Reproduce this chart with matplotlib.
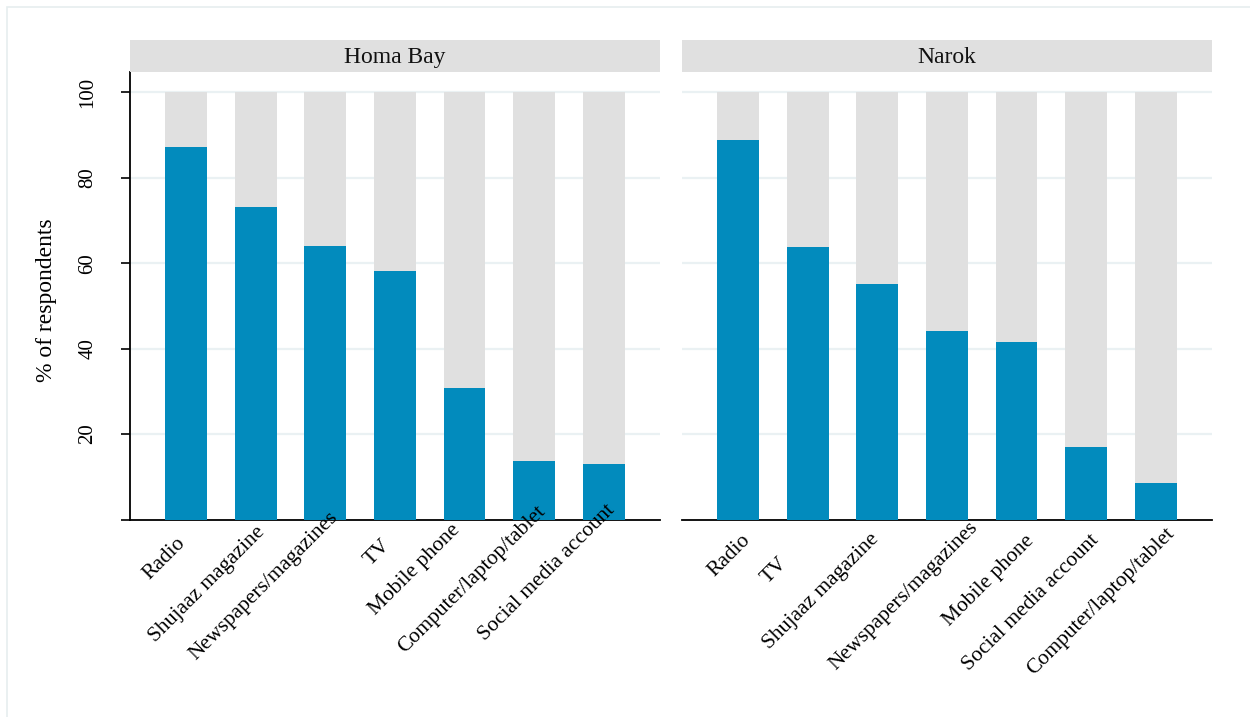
import matplotlib
matplotlib.use("Agg")
import matplotlib.pyplot as plt
from matplotlib.patches import Rectangle

plt.rcParams['font.family'] = ['Liberation Serif', 'DejaVu Serif']

# share of respondents using each media source, by county
homa_labels = ["Radio", "Shujaaz magazine", "Newspapers/magazines", "TV",
               "Mobile phone", "Computer/laptop/tablet", "Social media account"]
homa_values = [87.3, 73.3, 64.1, 58.2, 30.9, 13.7, 13.0]

narok_labels = ["Radio", "TV", "Shujaaz magazine", "Newspapers/magazines",
                "Mobile phone", "Social media account", "Computer/laptop/tablet"]
narok_values = [88.9, 63.9, 55.2, 44.2, 41.5, 17.0, 8.6]

y_ticks = [0, 20, 40, 60, 80, 100]

# pixel nudges for the slanted category labels (dx right, dy down)
homa_nudge = [(0, 24), (10, 13), (13, -2), (-4, 26), (-4, 11), (12, -7), (12, -9)]
narok_nudge = [(13, 21), (-20, 44), (2, 20), (32, 8), (18, 22), (13, 21), (19, 15)]

BLUE = '#028bbd'
GREY = '#e0e0e0'
GRID = '#eaf1f3'

fig = plt.figure(figsize=(12.5, 7.17), dpi=100)

# faint outer frame
fig.patches.append(Rectangle((7 / 1250, -0.01), 1.1, (717 - 7) / 717 + 0.01,
                             transform=fig.transFigure, fill=False,
                             edgecolor='#e6eeef', lw=1.2))

panels = [
    ("Homa Bay", homa_labels, homa_values, homa_nudge, 130),
    ("Narok", narok_labels, narok_values, narok_nudge, 682),
]

ax_bottom = (717 - 519.5) / 717
ax_height = 447.5 / 717

for i, (title, labels, values, nudge, left_px) in enumerate(panels):
    ax = fig.add_axes([left_px / 1250, ax_bottom, 530 / 1250, ax_height])
    x = list(range(len(values)))
    rest = [100 - v for v in values]

    ax.bar(x, values, width=0.6, color=BLUE, zorder=3)
    ax.bar(x, rest, width=0.6, bottom=values, color=GREY, zorder=3)

    ax.set_xlim(-0.805, 6.81)
    ax.set_ylim(0, 104.8)
    ax.set_yticks(y_ticks)
    for t in y_ticks[1:]:
        ax.axhline(t, color=GRID, lw=1.6, zorder=1)

    for s in ['top', 'right']:
        ax.spines[s].set_visible(False)
    ax.spines['bottom'].set_linewidth(1.3)
    ax.set_xticks([])

    if i == 0:
        ax.spines['left'].set_linewidth(1.3)
        ax.set_yticklabels([''] + [str(t) for t in y_ticks[1:]],
                           rotation=90, va='center', fontsize=15)
        ax.tick_params(axis='y', length=6.5, width=1.2, pad=17)
        ax.set_ylabel("% of respondents", fontsize=17)
        ax.yaxis.set_label_coords(-0.138, 0.49)
    else:
        ax.spines['left'].set_visible(False)
        ax.set_yticks([])

    for j, lab in enumerate(labels):
        dx, dy = nudge[j]
        ax.annotate(lab, xy=(j, 0), xycoords='data', xytext=(dx, -dy),
                    textcoords='offset pixels', rotation=45,
                    rotation_mode='anchor', ha='right', va='baseline',
                    fontsize=15.5, annotation_clip=False)

    # panel header strip
    strip = fig.add_axes([left_px / 1250, (717 - 71.5) / 717, 530 / 1250, 31.5 / 717])
    strip.set_facecolor(GREY)
    strip.set_xticks([])
    strip.set_yticks([])
    for s in strip.spines.values():
        s.set_visible(False)
    strip.text(0.5, 0.45, title, ha='center', va='center', fontsize=17,
               color='#111111', transform=strip.transAxes)

fig.savefig("out.png", dpi=100)
